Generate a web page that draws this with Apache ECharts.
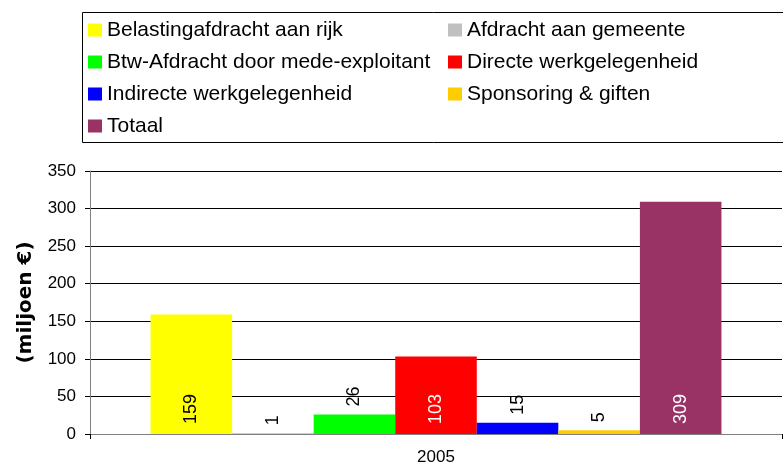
<!DOCTYPE html>
<html>
<head>
<meta charset="utf-8">
<script src="https://cdn.jsdelivr.net/npm/echarts@6/dist/echarts.min.js"></script>
<style>
  html, body { margin: 0; padding: 0; background: #fff; }
  #main { width: 783px; height: 467px; }
</style>
</head>
<body>
<div id="main"></div>
<script>
const categories = ['2005']
const seriesNames = [
  'Belastingafdracht aan rijk',
  'Afdracht aan gemeente',
  'Btw-Afdracht door mede-exploitant',
  'Directe werkgelegenheid',
  'Indirecte werkgelegenheid',
  'Sponsoring & giften',
  'Totaal'
]
const seriesValues = [159, 1, 26, 103, 15, 5, 309]
const seriesColors = ['#FFFF00', '#C0C0C0', '#00FF00', '#FF0000', '#0000FF', '#FFCC00', '#993366']
const labelColors = ['#000', '#000', '#000', '#fff', '#000', '#000', '#fff']
const yTicks = { min: 0, max: 350, interval: 50 }

const font = 'Liberation Sans, Arial, sans-serif'

let myChart = echarts.init(document.getElementById('main'))

function labelFor(i) {
  // big bars get the label inside at the base, small ones above the bar
  const inside = seriesValues[i] > 50
  return {
    show: true,
    position: inside ? 'insideBottom' : 'top',
    distance: inside ? 10 : 8,
    rotate: 90,
    align: 'left',
    verticalAlign: 'middle',
    color: labelColors[i],
    fontSize: 18,
    fontFamily: font
  }
}

let series = seriesNames.map((name, i) => ({
  name: name,
  type: 'bar',
  barGap: '0%',
  barCategoryGap: '17.5%',
  itemStyle: { color: seriesColors[i] },
  label: labelFor(i),
  data: [seriesValues[i]]
}))

const legendBase = {
  orient: 'vertical',
  top: 18,
  padding: 0,
  itemWidth: 14,
  itemHeight: 13,
  itemGap: 8,
  icon: 'rect',
  selectedMode: false,
  textStyle: { fontSize: 21, lineHeight: 24, color: '#000', fontFamily: font }
}

let option = {
  animation: false,
  backgroundColor: '#fff',
  graphic: [{
    type: 'rect',
    shape: { x: 82.5, y: 12.5, width: 720, height: 130 },
    style: { fill: 'none', stroke: '#000', lineWidth: 1 },
    z: -1
  }],
  legend: [
    Object.assign({}, legendBase, { left: 88, data: [seriesNames[0], seriesNames[2], seriesNames[4], seriesNames[6]] }),
    Object.assign({}, legendBase, { left: 448, data: [seriesNames[1], seriesNames[3], seriesNames[5]] })
  ],
  grid: { left: 90, right: 1, top: 171, bottom: 33, containLabel: false },
  xAxis: {
    type: 'category',
    data: categories,
    axisLine: { show: true, lineStyle: { color: '#808080', width: 1 } },
    axisTick: { show: true, length: 5, lineStyle: { color: '#000' } },
    axisLabel: { fontSize: 17, color: '#000', fontFamily: font, margin: 15 }
  },
  yAxis: {
    type: 'value',
    min: yTicks.min,
    max: yTicks.max,
    interval: yTicks.interval,
    name: '(miljoen €)',
    nameLocation: 'middle',
    nameRotate: 90,
    nameGap: 54,
    nameTextStyle: { fontSize: 20, fontWeight: 'bold', color: '#000', fontFamily: 'DejaVu Sans, sans-serif' },
    axisLine: { show: true, lineStyle: { color: '#808080', width: 1 } },
    axisTick: { show: true, length: 5, lineStyle: { color: '#000' } },
    axisLabel: { fontSize: 17, color: '#000', fontFamily: font, margin: 14 },
    splitLine: { show: true, lineStyle: { color: '#000', width: 1 } }
  },
  series: series
}

option && myChart.setOption(option)
</script>
</body>
</html>
